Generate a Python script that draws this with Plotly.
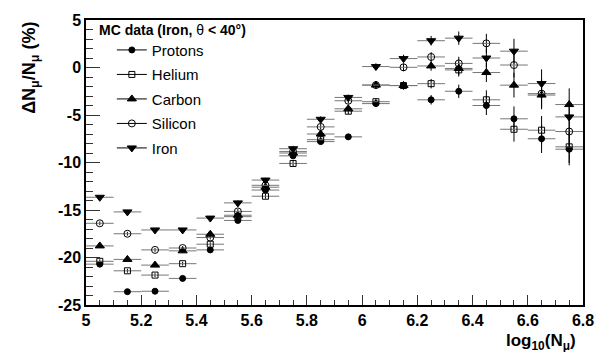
import plotly.graph_objects as go

log_nmu = [5.05, 5.15, 5.25, 5.35, 5.45, 5.55, 5.65, 5.75, 5.85, 5.95,
           6.05, 6.15, 6.25, 6.35, 6.45, 6.55, 6.65, 6.75]
bin_half_width = [0.05] * 18

protons = [-20.7, -23.6, -23.55, -22.2, -19.2, -16.1, -12.9, -9.3, -7.8, -7.3,
           -3.8, -1.9, -3.4, -2.5, -4.0, -5.4, -7.5, -8.6]
helium = [-20.4, -21.4, -21.85, -20.65, -18.6, -15.7, -13.55, -10.1, -7.6, -4.6,
          -3.6, -1.9, -1.7, -0.25, -3.4, -6.5, -6.6, -8.35]
carbon = [-18.78, -20.2, -20.8, -19.3, -17.55, -15.55, -12.6, -9.0, -7.0, -4.35,
          -1.85, -1.9, 0.16, -0.1, -0.53, -1.86, -2.9, -3.9]
silicon = [-16.4, -17.5, -19.2, -19.0, -17.9, -15.15, -12.4, -8.85, -6.25, -3.5,
           -1.85, 0.02, 1.11, 0.43, 2.54, 0.26, -2.75, -6.74]
iron = [-13.66, -15.2, -17.1, -17.1, -15.85, -14.25, -11.85, -8.55, -5.45, -3.15,
        0.1, 0.94, 2.82, 3.09, 1.0, 1.72, -1.69, -5.2]
y_err = [0.2, 0.2, 0.2, 0.2, 0.2, 0.25, 0.25, 0.3, 0.3, 0.3,
         0.35, 0.4, 0.5, 0.7, 1.0, 1.3, 1.5, 1.7]

x_tickvals = [5, 5.2, 5.4, 5.6, 5.8, 6, 6.2, 6.4, 6.6, 6.8]
x_ticktext = ["5", "5.2", "5.4", "5.6", "5.8", "6", "6.2", "6.4", "6.6", "6.8"]
y_tickvals = [-25, -20, -15, -10, -5, 0, 5]
y_ticktext = ["-25", "-20", "-15", "-10", "-5", "0", "5"]

series_names = ["Protons", "Helium", "Carbon", "Silicon", "Iron"]
series_values = [protons, helium, carbon, silicon, iron]
series_symbols = ["circle", "square-open", "triangle-up", "circle-open", "triangle-down"]
series_sizes = [6, 6, 8, 7, 8]

FONT = "Liberation Sans, Arial, Helvetica, sans-serif"

fig = go.Figure()
for name, vals, sym, sz in zip(series_names, series_values, series_symbols, series_sizes):
    fig.add_trace(go.Scatter(
        x=log_nmu, y=vals, mode="markers", showlegend=False,
        marker=dict(symbol=sym, size=sz, color="black", line=dict(color="black", width=1)),
        error_x=dict(type="data", array=bin_half_width, color="#777777", thickness=1, width=0),
        error_y=dict(type="data", array=y_err, color="black", thickness=1, width=0),
    ))
for name, sym, sz in zip(series_names, series_symbols, series_sizes):
    fig.add_trace(go.Scatter(
        x=[None], y=[None], mode="lines+markers", name=name, legendgroup=name,
        marker=dict(symbol=sym, size=sz, color="black", line=dict(color="black", width=1)),
        line=dict(color="black", width=1),
    ))

fig.update_layout(
    width=613, height=352,
    margin=dict(l=86, r=30, t=12, b=47),
    paper_bgcolor="white", plot_bgcolor="white",
    font=dict(family=FONT, color="black"),
    legend=dict(x=0.052, y=0.952, xanchor="left", yanchor="top",
                bgcolor="rgba(0,0,0,0)", borderwidth=0,
                font=dict(size=15, family=FONT), tracegroupgap=2),
    xaxis=dict(range=[5, 6.8], tickvals=x_tickvals, ticktext=x_ticktext,
               ticks="inside", ticklen=10,
               tickcolor="#333", tickwidth=1, showgrid=False, zeroline=False,
               showline=True, linecolor="black", linewidth=1.5, mirror=True,
               tickfont=dict(size=16, family=FONT, weight="bold"),
               minor=dict(dtick=0.05, tick0=5, ticks="inside", ticklen=5, tickcolor="#333", showgrid=False)),
    yaxis=dict(range=[-25, 5], tickvals=y_tickvals, ticktext=y_ticktext,
               ticks="inside", ticklen=14,
               tickcolor="#333", tickwidth=1, showgrid=False, zeroline=False,
               showline=True, linecolor="black", linewidth=1.5, mirror=True,
               tickfont=dict(size=16, family=FONT, weight="bold"),
               minor=dict(dtick=1, tick0=-25, ticks="inside", ticklen=7, tickcolor="#333", showgrid=False)),
    annotations=[
        dict(text="<b>MC data (Iron, </b>θ<b> < 40°)</b>", xref="paper", yref="paper",
             x=0.022, y=0.966, xanchor="left", yanchor="middle", showarrow=False,
             font=dict(size=14, family=FONT)),
        dict(text="<b>log<sub>10</sub>(N<sub>μ</sub>)</b>", xref="paper", yref="paper",
             x=0.99, y=-0.085, xanchor="right", yanchor="top", showarrow=False,
             font=dict(size=17, family=FONT)),
        dict(text="<b>ΔN<sub>μ</sub>/N<sub>μ</sub> (%)</b>", xref="paper", yref="paper",
             x=-0.113, y=1.0, xanchor="center", yanchor="top", textangle=-90, showarrow=False,
             font=dict(size=18, family=FONT)),
    ],
)

fig.write_html("out.html")
